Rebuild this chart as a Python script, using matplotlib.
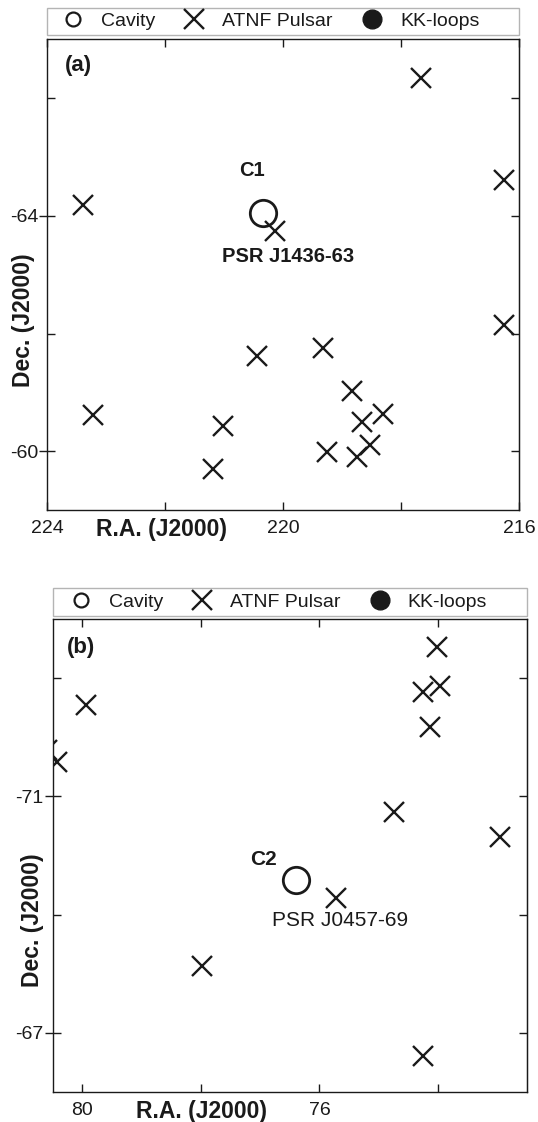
import matplotlib
matplotlib.use("Agg")
import matplotlib.pyplot as plt
from matplotlib.lines import Line2D
from matplotlib.patches import Rectangle

plt.rcParams['font.family'] = ['Liberation Sans', 'DejaVu Sans']
plt.rcParams['axes.unicode_minus'] = False

ink = '#1a1a1a'

# panel (a): field around C1
pulsar_ra_a = [217.67, 216.26, 223.40, 220.14, 216.26, 223.23, 220.44, 219.32,
               218.83, 221.02, 218.66, 218.30, 219.25, 218.52, 218.74, 221.19]
pulsar_dec_a = [-66.34, -64.61, -64.19, -63.75, -62.15, -60.61, -61.61, -61.75,
                -61.02, -60.42, -60.49, -60.63, -59.98, -60.10, -59.90, -59.69]
cavity_ra_a = [220.34]
cavity_dec_a = [-64.05]

# panel (b): field around C2
pulsar_ra_b = [74.01, 74.26, 73.96, 74.13, 79.94, 80.43, 80.60, 74.75,
               72.96, 75.72, 77.98, 74.26]
pulsar_dec_b = [-73.53, -72.76, -72.86, -72.17, -72.54, -71.59, -71.78, -70.73,
                -70.31, -69.29, -68.14, -66.61]
cavity_ra_b = [76.39]
cavity_dec_b = [-69.59]

# ticks: labelled (major) and unlabelled (minor)
xmajor_a, xminor_a = [224, 220, 216], [222, 218]
ymajor_a, yminor_a = [-64, -60], [-66, -62]
xmajor_b, xminor_b = [80, 76], [78, 74]
ymajor_b, yminor_b = [-71, -67], [-73, -69]


def style_panel(ax, xmajor, xminor, ymajor, yminor, tag, tag_pos,
                xlab_pos, ylab_pos, leg_x, leg_box):
    ax.set_xticks(xmajor)
    ax.set_xticks(xminor, minor=True)
    ax.set_yticks(ymajor)
    ax.set_yticks(yminor, minor=True)
    ax.tick_params(axis='x', which='both', direction='in', top=True, bottom=True,
                   length=5.8, width=1, color=ink, labelcolor=ink, labelsize=14, pad=7)
    ax.tick_params(axis='y', which='minor', direction='in', left=True, right=True,
                   length=5.8, width=1, color=ink)
    ax.tick_params(axis='y', which='major', direction='inout', left=True, right=False,
                   length=11.5, width=1, color=ink, labelcolor=ink, labelsize=14, pad=1)
    sec = ax.secondary_yaxis('right')
    sec.set_yticks(ymajor)
    sec.tick_params(direction='in', length=5.8, width=1, color=ink, labelright=False)
    sec.spines['right'].set_color(ink)
    for s in ax.spines.values():
        s.set_linewidth(1.0)
        s.set_color(ink)

    ax.text(tag_pos[0], tag_pos[1], tag, transform=ax.transAxes, ha='center',
            va='center', fontsize=16, fontweight='bold', color=ink)
    ax.text(xlab_pos[0], xlab_pos[1], 'R.A. (J2000)', transform=ax.transAxes,
            ha='center', va='center', fontsize=16.5, fontweight='bold', color=ink)
    ax.text(ylab_pos[0], ylab_pos[1], 'Dec. (J2000)', transform=ax.transAxes,
            ha='center', va='center', rotation=90, fontsize=16.5,
            fontweight='bold', color=ink)

    h1 = Line2D([], [], ls='none', marker='o', ms=10, mfc='none', mec=ink,
                mew=1.6, label='Cavity')
    h2 = Line2D([], [], ls='none', marker='x', ms=14, mec=ink, mew=1.7,
                label='ATNF Pulsar')
    h3 = Line2D([], [], ls='none', marker='o', ms=13.5, mfc=ink, mec=ink,
                label='KK-loops')
    y0, y1 = leg_box
    ax.legend(handles=[h1, h2, h3], ncol=3, loc='center left',
              bbox_to_anchor=(leg_x, (y0 + y1) / 2), frameon=False,
              borderaxespad=0, borderpad=0, handlelength=1.0,
              handletextpad=0.94, columnspacing=1.51, fontsize=14,
              numpoints=1, labelcolor=ink)
    ax.add_patch(Rectangle((0, y0), 1, y1 - y0, transform=ax.transAxes,
                           fill=False, ec='#b4b4b4', lw=1, clip_on=False))


fig = plt.figure(figsize=(5.38, 11.22), dpi=100)
ax1 = fig.add_axes([0.0881, 0.5455, 0.8766, 0.4193])
ax2 = fig.add_axes([0.0976, 0.0267, 0.8820, 0.4216])

# (a)
ax1.plot(cavity_ra_a, cavity_dec_a, ls='none', marker='o', ms=19, mfc='none',
         mec=ink, mew=2)
ax1.plot(pulsar_ra_a, pulsar_dec_a, ls='none', marker='x', ms=14.5, mec=ink, mew=1.7)
ax1.text(220.53, -64.78, 'C1', ha='center', va='center', fontsize=14.5,
         fontweight='bold', color=ink)
ax1.text(219.92, -63.31, 'PSR J1436-63', ha='center', va='center',
         fontsize=14.5, fontweight='bold', color=ink)
ax1.set_xlim(224, 216)
ax1.set_ylim(-59, -67)
style_panel(ax1, xmajor_a, xminor_a, ymajor_a, yminor_a, '(a)', (0.065, 0.944),
            (0.241, -0.0425), (-0.0517, 0.404), 0.0337, (1.0087, 1.068))

# (b)
ax2.plot(cavity_ra_b, cavity_dec_b, ls='none', marker='o', ms=19, mfc='none',
         mec=ink, mew=2)
ax2.plot(pulsar_ra_b, pulsar_dec_b, ls='none', marker='x', ms=14.5, mec=ink, mew=1.7)
ax2.text(76.95, -69.93, 'C2', ha='center', va='center', fontsize=15,
         fontweight='bold', color=ink)
ax2.text(75.65, -68.90, 'PSR J0457-69', ha='center', va='center',
         fontsize=15, color=ink)
ax2.set_xlim(80.5, 72.5)
ax2.set_ylim(-66, -74)
style_panel(ax2, xmajor_b, xminor_b, ymajor_b, yminor_b, '(b)', (0.06, 0.939),
            (0.315, -0.0414), (-0.0432, 0.364), 0.039, (1.0072, 1.0645))

fig.savefig('out.png', dpi=100)
